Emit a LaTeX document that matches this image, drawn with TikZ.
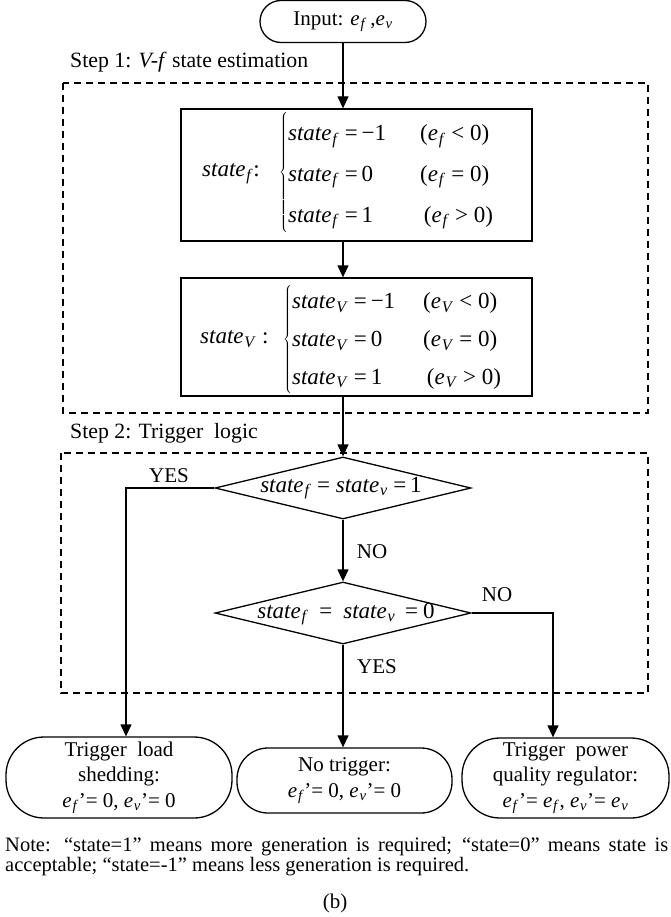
\documentclass[tikz,border=0pt]{standalone}
\usepackage{fontspec}
\setmainfont{Liberation Serif}
\usetikzlibrary{arrows.meta,shapes.geometric,calc}
\newcommand{\vs}[2]{\textit{#1}\kern0.8pt\textsubscript{\textit{#2}}}
\begin{document}
\begin{tikzpicture}[x=1pt,y=-1pt,
  font=\fontsize{21}{25.5}\selectfont,
  solidbox/.style={draw, line width=1.3pt, inner sep=0pt},
  dashbox/.style={draw, line width=1.3pt, dash pattern=on 7pt off 5pt},
  arr/.style={line width=1.3pt, -{Triangle[length=12pt,width=11pt]}},
  dia/.style={draw, diamond, line width=1.3pt, minimum width=256pt, minimum height=62pt, inner sep=0pt},
  lbl/.style={inner sep=0pt},
  steplbl/.style={inner sep=0pt, anchor=west, font=\fontsize{21.8}{26}\selectfont},
  mathtxt/.style={inner sep=0pt, font=\fontsize{23}{28}\selectfont}]
\useasboundingbox (0,0) rectangle (670,917);

% dashed step frames
\draw[dashbox] (63,83) rectangle (648,413);
\draw[dashbox] (61,453) rectangle (648,693);
\node[steplbl] (s1) at (70,62) {Step 1: \textit{V-f} state estimation};
\node[steplbl] (s2) at (70,433) {Step 2: Trigger\ \ logic};

% input terminal
\node[solidbox, rounded corners=21pt, minimum width=166pt, minimum height=42pt] (in) at (343,21.5) {Input: \vs{e}{f}\,,\vs{e}{v}};

% box 1
\node[solidbox, minimum width=351pt, minimum height=132pt] (b1) at (356.5,175) {};
\node[mathtxt, anchor=west] (l1) at (202,174) {\vs{state}{f}:};
\node[mathtxt, anchor=west] (r1) at (279,173) {\renewcommand{\arraystretch}{1.46}$\left\{\begin{tabular}{@{}p{132pt}@{}l@{}}
\vs{state}{f} =\,−1 & (\vs{e}{f} < 0)\\
\vs{state}{f} =\,0 & (\vs{e}{f} = 0)\\
\vs{state}{f} =\,1 & \,(\vs{e}{f} > 0)
\end{tabular}\right.$};

% box 2
\node[solidbox, minimum width=351pt, minimum height=118pt] (b2) at (356.5,337) {};
\node[mathtxt, anchor=west] (l2) at (200,339) {\vs{state}{V} :};
\node[mathtxt, anchor=west] (r2) at (283,339) {\renewcommand{\arraystretch}{1.34}$\left\{\begin{tabular}{@{}p{131pt}@{}l@{}}
\vs{state}{V} =\,−1 & (\vs{e}{V} < 0)\\
\vs{state}{V} =\,0 & (\vs{e}{V} = 0)\\
\vs{state}{V} =\,1 & \,(\vs{e}{V} > 0)
\end{tabular}\right.$};

% decisions
\node[dia] (d1) at (343,488) {};
\node[mathtxt] (d1t) at (341,488) {\vs{state}{f} = \vs{state}{v} =\,1};
\node[dia] (d2) at (343,613) {};
\node[mathtxt] (d2t) at (346,614) {\vs{state}{f}\hspace{11pt}=\hspace{11pt}\vs{state}{v}\hspace{10pt}=\hspace{5pt}0};

% terminals
\node[solidbox, rounded corners=38pt, minimum width=226pt, minimum height=81pt, align=center] (t1) at (119,777.5) {Trigger\ \ load\\ shedding:\\ \vs{e}{f}’= 0, \vs{e}{v}’= 0};
\node[solidbox, rounded corners=31pt, minimum width=215pt, minimum height=65pt, align=center] (t2) at (344.5,780.5) {No trigger:\\ \vs{e}{f}’= 0, \vs{e}{v}’= 0};
\node[solidbox, rounded corners=38pt, minimum width=207pt, minimum height=80pt, align=center] (t3) at (565.5,778) {Trigger\ \ power\\ quality regulator:\\ \vs{e}{f}’= \vs{e}{f}, \vs{e}{v}’= \vs{e}{v}};

% connectors
\draw[arr] (in.south) -- (in.south |- b1.north);
\draw[arr] (in.south |- b1.south) -- (in.south |- b2.north);
\draw[arr] (in.south |- b2.south) -- (d1.north);
\draw[arr] (d1.south) -- (d2.north);
\draw[arr] (d1.west) -| ([xshift=7pt]t1.north);
\draw[arr] (d2.east) -| ([xshift=-12.5pt]t3.north);
\draw[arr] (d2.south) -- (d2.south |- t2.north);

% branch labels
\node[lbl] (yes1) at (169,476) {YES};
\node[lbl] (no1) at (372,552) {NO};
\node[lbl] (no2) at (497,595) {NO};
\node[lbl] (yes2) at (377,667) {YES};

% note
\node[lbl, anchor=north west, text width=663pt, align=justify, font=\fontsize{20.5}{20.5}\selectfont] (note) at (5,837) {\hyphenpenalty=10000\relax Note: “state=1” means more generation is required; “state=0” means state is\linebreak acceptable; “state=-1” means less generation is required.};
\node[lbl] (cap) at (335,903) {(b)};
\end{tikzpicture}
\end{document}
